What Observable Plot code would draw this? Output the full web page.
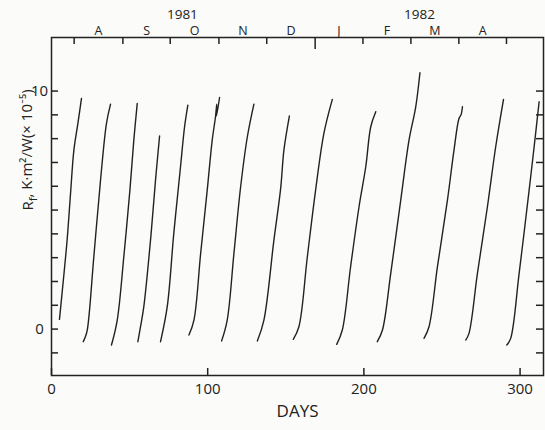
<!DOCTYPE html>
<html>
<head>
<meta charset="utf-8">
<script src="https://cdn.jsdelivr.net/npm/d3@7"></script>
<script src="https://cdn.jsdelivr.net/npm/@observablehq/plot@0.6"></script>
<style>
  html, body { margin: 0; padding: 0; background: #fbfbf9; }
  #chart { width: 545px; height: 430px; }
</style>
</head>
<body>
<div id="chart"></div>
<script>
// Fouling runs: days since start and fouling resistance Rf (x 10^-5 K·m²/W)
const runDays = [
  [5.1, 7.5, 10.0, 12.2, 14.3, 16.9, 19.2],
  [20.3, 21.5, 22.9, 27.1, 31.4, 35.2, 37.8],
  [38.4, 42.1, 46.3, 50.2, 52.7, 54.9],
  [55.3, 57.0, 59.1, 63.4, 66.6, 69.2],
  [69.8, 74.1, 78.3, 82.6, 85.2, 87.3],
  [88.0, 91.2, 95.5, 99.7, 102.9, 105.0, 105.8, 105.6, 107.6],
  [108.9, 112.5, 116.8, 121.1, 125.4, 129.6],
  [131.8, 136.0, 142.4, 146.7, 148.8, 152.3],
  [154.8, 158.4, 163.8, 169.1, 174.4, 179.8],
  [182.6, 186.2, 191.5, 196.9, 201.2, 204.4, 207.6],
  [208.6, 211.9, 217.2, 223.6, 228.9, 233.2, 235.9],
  [238.5, 241.7, 247.1, 253.5, 257.7, 260.9, 262.2, 263.1],
  [265.2, 267.3, 272.7, 279.1, 284.4, 289.4],
  [291.5, 294.0, 299.4, 305.8, 309.0, 312.2]
];
const runRf = [
  [0.41, 2.0, 3.74, 5.7, 7.5, 8.64, 9.69],
  [-0.53, -0.35, -0.04, 3.04, 6.26, 8.64, 9.45],
  [-0.67, 0.38, 3.04, 5.84, 7.94, 9.48],
  [-0.53, 0.1, 0.94, 3.74, 6.26, 8.11],
  [-0.53, 0.94, 4.02, 6.82, 8.5, 9.41],
  [-0.25, 0.38, 3.18, 5.84, 7.94, 8.92, 9.45, 8.95, 9.73],
  [-0.5, 0.38, 3.18, 5.98, 8.08, 9.45],
  [-0.5, 0.38, 3.74, 5.9, 7.52, 8.95],
  [-0.43, 0.1, 3.04, 5.84, 8.22, 9.65],
  [-0.64, -0.04, 2.62, 5.14, 6.82, 8.5, 9.13],
  [-0.53, -0.04, 2.34, 5.42, 7.94, 9.34, 10.77],
  [-0.39, 0.1, 2.62, 5.42, 7.52, 8.85, 9.0, 9.34],
  [-0.46, -0.18, 2.34, 5.14, 7.66, 9.65],
  [-0.67, -0.39, 2.34, 5.84, 7.66, 9.55]
];

// Axis tick values and labels
const xTickValues = [0, 100, 200, 300];
const yTickValues = [-1, 0, 1, 2, 3, 4, 5, 6, 7, 8, 9, 10];
const yLabelValues = [0, 10];
// Month boundaries (in days) on the top axis; the year boundary is longer
const monthTicks = [14.5, 45.7, 76.0, 107.2, 137.8, 199.4, 230.1, 260.8, 291.3];
const yearTicks = [168.8];
const monthLabels = ["A", "S", "O", "N", "D", "J", "F", "M", "A"];
const monthLabelDays = [30.1, 60.9, 91.6, 122.5, 153.3, 184.1, 214.8, 245.5, 276.0];
const yearLabels = ["1981", "1982"];
const yearLabelDays = [83.8, 235.6];

const rows = runDays.flatMap((ds, r) => ds.map((d, i) => ({run: r, day: d, rf: runRf[r][i]})));

const ink = "#222";
const font = "'Open Sans', Lato, sans-serif";

const W = 545, H = 430, mL = 51, mR = 2, mT = 37, mB = 55;
const xDomain = [0, 315], yDomain = [-1.95, 12.25];
const fw = W - mL - mR, fh = H - mT - mB;       // frame size in px
// inward tick lengths converted from pixels to data units
const pxX = (xDomain[1] - xDomain[0]) / fw;
const pxY = (yDomain[1] - yDomain[0]) / fh;
const tkY = 7 * pxX;      // y-axis ticks (horizontal length)
const tkX = 7 * pxY;      // x-axis ticks (vertical length)
const tkYear = 12 * pxY;

const chart = Plot.plot({
  width: W,
  height: H,
  marginLeft: mL,
  marginRight: mR,
  marginTop: mT,
  marginBottom: mB,
  style: {background: "transparent", fontFamily: font, color: ink},
  x: {domain: xDomain, axis: null},
  y: {domain: yDomain, axis: null},
  marks: [
    Plot.frame({stroke: ink, strokeWidth: 1.5}),
    // inward ticks
    Plot.ruleY(yTickValues, {y: d => d, x1: xDomain[0], x2: xDomain[0] + tkY, stroke: ink, strokeWidth: 1.5}),
    Plot.ruleY(yTickValues, {y: d => d, x1: xDomain[1] - tkY, x2: xDomain[1], stroke: ink, strokeWidth: 1.5}),
    Plot.ruleX(xTickValues, {x: d => d, y1: yDomain[0], y2: yDomain[0] + tkX, stroke: ink, strokeWidth: 1.5}),
    Plot.ruleX(monthTicks, {x: d => d, y1: yDomain[1] - tkX, y2: yDomain[1], stroke: ink, strokeWidth: 1.5}),
    Plot.ruleX(yearTicks, {x: d => d, y1: yDomain[1] - tkYear, y2: yDomain[1], stroke: ink, strokeWidth: 1.5}),
    Plot.line(rows, {x: "day", y: "rf", z: "run", stroke: ink, strokeWidth: 1.4, curve: "catmull-rom"}),
    Plot.text(xTickValues, {x: d => d, frameAnchor: "bottom", dy: 14, fontSize: 15, fill: ink, lineAnchor: "middle"}),
    Plot.text(yLabelValues, {y: d => d, frameAnchor: "left", dx: -12, fontSize: 15, fill: ink, textAnchor: "middle"}),
    Plot.text(monthLabelDays, {x: d => d, text: (d, i) => monthLabels[i], frameAnchor: "top", dy: -7, fontSize: 12.5, fill: ink, lineAnchor: "middle"}),
    Plot.text(yearLabelDays, {x: d => d, text: (d, i) => yearLabels[i], frameAnchor: "top", dy: -23, fontSize: 13.5, fill: ink, lineAnchor: "middle"}),
    Plot.text(["DAYS"], {frameAnchor: "bottom", dy: 36, fontSize: 17, fill: ink, lineAnchor: "middle"}),
    Plot.text(["Rf, K·m²/W(× 10⁻⁵)"], {frameAnchor: "left", dx: -23, dy: 4, rotate: -90, fontSize: 15, fill: ink, lineAnchor: "middle"})
  ]
});

// Make the "f" in Rf a subscript
d3.select(chart).selectAll("text").each(function() {
  const t = d3.select(this);
  if (t.text() === "Rf, K·m²/W(× 10⁻⁵)") {
    t.text(null);
    t.append("tspan").text("R");
    t.append("tspan").attr("dy", "0.3em").attr("font-size", "0.75em").text("f");
    t.append("tspan").attr("dy", "-0.3em").text(", K·m²/W(× 10⁻⁵)");
  }
});

document.getElementById("chart").appendChild(chart);
</script>
</body>
</html>
